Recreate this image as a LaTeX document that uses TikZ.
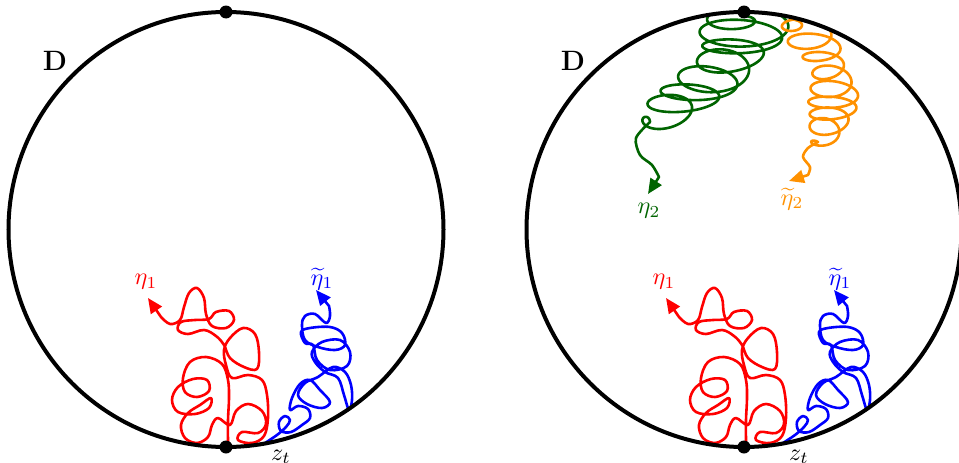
\documentclass[tikz,border=0pt]{standalone}
\usepackage{graphicx}
\usetikzlibrary{arrows.meta}
\definecolor{oran}{RGB}{255,145,0}
\definecolor{dgreen}{RGB}{0,100,0}
\begin{document}
\begin{tikzpicture}[x=1pt,y=-1pt,
  bnd/.style={line width=4pt},
  dot/.style={circle,fill=black,inner sep=0pt,minimum size=13pt},
  walk/.style={line width=2.6pt,line join=round,line cap=round},
  tip/.style={-{Triangle[length=15pt,width=13pt]}},
  lab/.style={inner sep=0pt},
  dlab/.style={font=\fontsize{28}{30}\selectfont\bfseries,inner sep=0pt},
]
\useasboundingbox (0,0) rectangle (959,463);

% ---- the two walks near the bottom, drawn in both discs
\foreach \sh/\nm in {0/L,518/R}{
\begin{scope}[xshift=\sh pt]
\begin{scope}
\clip (226,229.5) circle[radius=216];
\draw[walk,red,tip] plot[smooth,tension=0.6] coordinates {
 (228,444) (228,420) (229,398) (228,380) (222,364) (206,357) (190,362) (183,378)
 (185,392) (197,397) (209,391) (207,380) (193,379) (178,387) (172,400) (178,412)
 (195,414) (209,408) (211,398) (200,405) (188,413) (181,425) (185,438) (197,443)
 (208,437) (212,425) (218,418) (230,425) (236,411) (248,404) (262,411) (266,424)
 (258,433) (242,432) (238,440) (252,443) (264,436) (268,418) (267,395) (262,380)
 (248,375) (232,378) (226,365) (224,350) (230,338) (243,328) (255,334) (259,352)
 (257,369) (244,367) (230,358) (224,345) (216,336) (204,330) (188,334) (178,330)
 (181,322) (195,320) (209,319) (216,312) (229,311) (234,320) (226,328) (212,326)
 (206,314) (204,298) (197,288) (189,293) (184,307) (180,320) (170,324) (161,317)}
 -- (148,298);
\draw[walk,blue,tip] plot[smooth,tension=0.6] coordinates {
 (265,443) (277,435) (286,427) (290,420) (285,416) (279,422) (281,431) (291,432)
 (302,425) (310,418) (308,409) (298,406) (290,410) (292,398) (300,384) (310,380)
 (320,390) (330,402) (322,408) (307,404) (298,395) (305,383) (318,377) (333,367)
 (345,372) (351,385) (352,400) (349,410) (344,395) (338,378) (325,372) (315,362)
 (312,352) (322,342) (340,340) (350,352) (347,366) (330,370) (317,360) (313,345)
 (305,343) (301,332) (310,328) (330,327) (342,333) (345,345) (335,350) (318,347)
 (305,340) (302,325) (305,316) (315,314) (326,323) (330,316) (329,306)}
 -- (316,290);
\end{scope}
\node[lab,red] (eta1\nm) at (146,282) {\scalebox{2.4}{$\eta_1$}};
\node[lab,blue] (teta1\nm) at (322,279) {\scalebox{2.4}{$\widetilde{\eta}_1$}};
\node[lab] (zt\nm) at (281,457) {\scalebox{2.4}{$z_t$}};
\end{scope}
}

% ---- the two walks near the top of the right disc
\begin{scope}
\clip (744,229.5) circle[radius=216];
\draw[walk,dgreen,tip] plot[domain=0:1,samples=900,variable=\t]
 ({(1-\t)*(1-\t)*744+2*\t*(1-\t)*752+\t*\t*650+(1-((2*\t-1)*(2*\t-1))^8)*(42-17*\t+5*sin(600*\t))*cos(2700*\t+70*sin(450*\t))},
  {(1-\t)*(1-\t)*16+2*\t*(1-\t)*60+\t*\t*122+(1-((2*\t-1)*(2*\t-1))^8)*(14+4*sin(800*\t))*sin(2700*\t+70*sin(450*\t))})
 -- plot[smooth] coordinates {(650,122) (636,138) (640,155) (652,165) (659,177)} -- (648,194);
\draw[walk,oran,tip] plot[domain=0:1,samples=900,variable=\t]
 ({(1-\t)*(1-\t)*795+2*\t*(1-\t)*858+\t*\t*818+(1-((2*\t-1)*(2*\t-1))^8)*(21+4*sin(700*\t))*cos(3060*\t+50*sin(500*\t))},
  {(1-\t)*(1-\t)*20+2*\t*(1-\t)*85+\t*\t*142+(1-((2*\t-1)*(2*\t-1))^8)*(10+2*sin(900*\t))*sin(3060*\t+50*sin(500*\t))})
 -- plot[smooth] coordinates {(818,142) (808,148) (803,157) (810,167) (808,175)} -- (789,181);
\end{scope}
\node[lab,dgreen] (eta2) at (649,211) {\scalebox{2.4}{$\eta_2$}};
\node[lab,oran] (teta2) at (792,199) {\scalebox{2.4}{$\widetilde{\eta}_2$}};

% ---- boundaries
\draw[bnd] (226,229.5) circle[radius=217.5];
\draw[bnd] (744,229.5) circle[radius=217.5];
\node[dot] (topL) at (226,12) {};
\node[dot] (botL) at (226,447) {};
\node[dot] (topR) at (744,12) {};
\node[dot] (botR) at (744,447) {};
\node[dlab] (DL) at (55,61) {D};
\node[dlab] (DR) at (573,61) {D};
\end{tikzpicture}
\end{document}
